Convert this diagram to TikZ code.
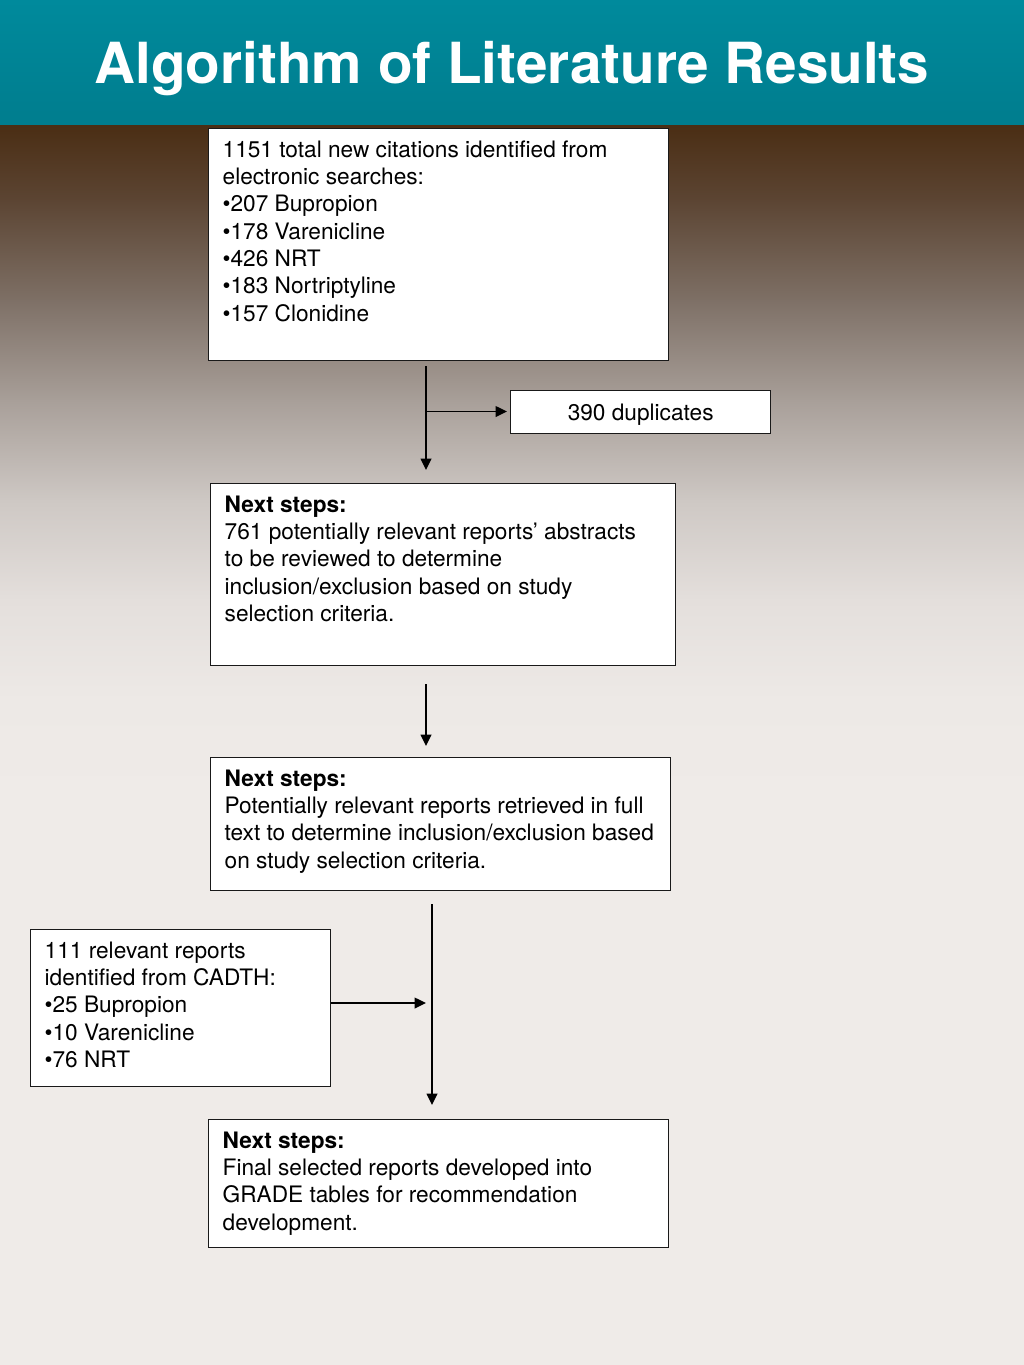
\documentclass[tikz,border=0pt]{standalone}
\usepackage{fontspec}
\setmainfont{TeX Gyre Heros}
\usetikzlibrary{arrows.meta}
\definecolor{hdrTop}{RGB}{0,138,156}
\definecolor{hdrBot}{RGB}{0,125,142}
\definecolor{bgA}{HTML}{4A2D13}
\definecolor{bgB}{HTML}{5C4533}
\definecolor{bgC}{HTML}{7E7066}
\definecolor{bgD}{HTML}{A89F99}
\definecolor{bgE}{HTML}{CEC8C4}
\definecolor{bgF}{HTML}{E4DFDC}
\definecolor{bgG}{HTML}{EDE9E6}
\definecolor{bgH}{HTML}{EFEBE8}
\newcommand\bxtext[3]{\begin{minipage}[t][#2][t]{#1}\begin{tabular}[t]{@{}l@{}}#3\end{tabular}\end{minipage}}
\tikzset{
  box/.style={draw=black!90, line width=1pt, fill=white, anchor=north west,
    inner xsep=10.5pt, inner ysep=7pt, font=\fontsize{17}{20.5}\selectfont},
  arr/.style={line width=1.1pt, -{Triangle[length=8.5pt,width=8pt]}},
}
\begin{document}
\begin{tikzpicture}[x=0.75pt,y=-0.75pt]
\useasboundingbox (0,0) rectangle (1024,1365);
% background
\fill[bgH] (0,0) rectangle (1024,1365);
\shade[top color=bgA,bottom color=bgB] (0,123) rectangle (1024,201);
\shade[top color=bgB,bottom color=bgC] (0,200) rectangle (1024,301);
\shade[top color=bgC,bottom color=bgD] (0,300) rectangle (1024,401);
\shade[top color=bgD,bottom color=bgE] (0,400) rectangle (1024,501);
\shade[top color=bgE,bottom color=bgF] (0,500) rectangle (1024,601);
\shade[top color=bgF,bottom color=bgG] (0,600) rectangle (1024,701);
\shade[top color=bgG,bottom color=bgH] (0,700) rectangle (1024,800);
\shade[top color=hdrTop,bottom color=hdrBot] (0,0) rectangle (1024,124);
% title
\node[font=\fontsize{42.5}{50}\selectfont\bfseries, text=white, anchor=base] (title) at (512,83) {Algorithm of Literature Results};
% boxes
\node[box] (b1) at (208,128) {\bxtext{324pt}{160pt}{1151 total new citations identified from\\ electronic searches:\\ •207 Bupropion\\ •178 Varenicline\\ •426 NRT\\ •183 Nortriptyline\\ •157 Clonidine}};
\node[box, anchor=north west, inner sep=0pt, minimum width=195pt, minimum height=32.25pt, text depth=0pt, text height=12pt] (dup) at (510,390) {390 duplicates};
\node[box] (b2) at (210,483) {\bxtext{327.75pt}{122.5pt}{\textbf{Next steps:}\\ 761 potentially relevant reports’ abstracts\\ to be reviewed to determine\\ inclusion/exclusion based on study\\ selection criteria.}};
\node[box] (b3) at (210,757) {\bxtext{324pt}{85.75pt}{\textbf{Next steps:}\\ Potentially relevant reports retrieved in full\\ text to determine inclusion/exclusion based\\ on study selection criteria.}};
\node[box] (b4) at (30,929) {\bxtext{204pt}{103.75pt}{111 relevant reports\\ identified from CADTH:\\ •25 Bupropion\\ •10 Varenicline\\ •76 NRT}};
\node[box] (b5) at (208,1119) {\bxtext{324pt}{82pt}{\textbf{Next steps:}\\ Final selected reports developed into\\ GRADE tables for recommendation\\ development.}};
% junctions
\coordinate (j1) at (426,411.5);
\coordinate (j2) at (432,1003);
% connectors
\draw[arr, shorten <=3.75pt, shorten >=9.75pt] (b1.south -| j1) -- (b2.north -| j1);
\draw[arr, shorten >=2.25pt] (j1) -- (j1 -| dup.west);
\draw[arr, shorten <=13.5pt, shorten >=8.25pt] (b2.south -| j1) -- (b3.north -| j1);
\draw[arr, shorten <=9.75pt, shorten >=10.5pt] (b3.south -| j2) -- (b5.north -| j2);
\draw[arr, shorten >=4.5pt] (b4.east |- j2) -- (j2);
\end{tikzpicture}
\end{document}
